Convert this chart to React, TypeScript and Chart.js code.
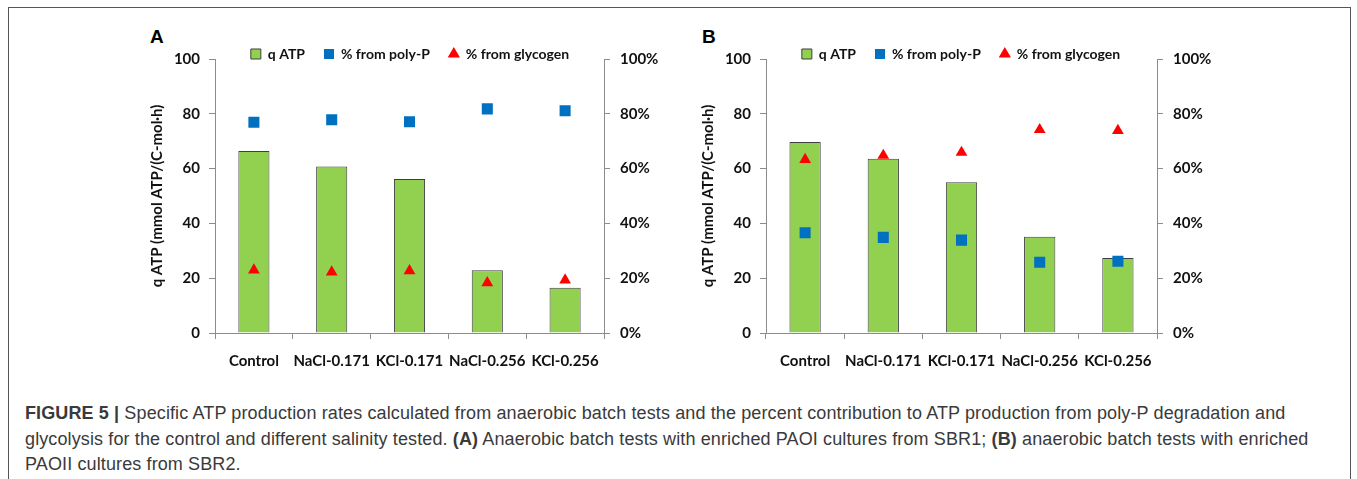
import React, { useEffect, useRef } from 'react';
import { Chart, registerables } from 'chart.js';

Chart.register(...registerables);

const categories = ['Control', 'NaCl-0.171', 'KCl-0.171', 'NaCl-0.256', 'KCl-0.256'];

const qAtpA = [66.4, 60.8, 56.2, 22.9, 16.5];
const polyPA = [76.9, 77.8, 77.1, 81.8, 81.1];
const glycogenA = [23.0, 22.2, 22.7, 18.3, 19.3];

const qAtpB = [69.7, 63.6, 55.0, 35.1, 27.4];
const polyPB = [36.6, 34.9, 33.9, 25.8, 26.2];
const glycogenB = [63.3, 64.8, 65.9, 74.2, 73.9];

const seriesLabels = ['q ATP', '% from poly-P', '% from glycogen'];
const yTitle = 'q ATP (mmol ATP/(C-mol·h)';

const FONT = 'Lato, "Open Sans", sans-serif';
const AXIS = '#8c8c8c';
const TXT = '#111111';

function legendHeight(h: number) {
  return {
    id: 'legendHeight',
    beforeLayout(chart: any) {
      const lg = chart.legend;
      if (lg && !lg._fixedH) {
        const fit = lg.fit.bind(lg);
        lg.fit = function () {
          fit();
          this.height = h;
        };
        lg.draw = function () {
          if (this.options.display) this._draw();
        };
        lg._fixedH = true;
      }
    },
  };
}

function Panel(props: {
  qAtp: number[];
  polyP: number[];
  glyc: number[];
  leftW: number;
  rightW: number;
}) {
  const ref = useRef<HTMLCanvasElement | null>(null);
  useEffect(() => {
    if (!ref.current) return;
    const tickFont = { family: FONT, size: 15, weight: 'bold' as const };
    const chart = new Chart(ref.current, {
      type: 'bar',
      data: {
        labels: categories,
        datasets: [
          {
            type: 'bar',
            label: seriesLabels[0],
            data: props.qAtp,
            backgroundColor: '#92D050',
            borderColor: '#3f3f3f',
            borderWidth: 1,
            borderSkipped: 'bottom',
            barPercentage: 0.4,
            categoryPercentage: 1,
            yAxisID: 'y',
            pointStyle: 'rect',
            order: 3,
          } as any,
          {
            type: 'line',
            label: seriesLabels[1],
            data: props.polyP,
            yAxisID: 'y1',
            showLine: false,
            pointStyle: 'rect',
            pointRadius: 7.8,
            backgroundColor: '#0070C0',
            borderColor: '#0070C0',
            borderWidth: 0,
            pointBorderWidth: 0,
            order: 2,
          } as any,
          {
            type: 'line',
            label: seriesLabels[2],
            data: props.glyc,
            yAxisID: 'y1',
            showLine: false,
            pointStyle: 'triangle',
            pointRadius: 6.8,
            backgroundColor: '#FF0000',
            borderColor: '#FF0000',
            borderWidth: 0,
            pointBorderWidth: 0,
            order: 1,
          } as any,
        ],
      },
      options: {
        animation: false,
        responsive: false,
        events: [],
        layout: { padding: { top: 8, left: 0, right: 0, bottom: 0 } },
        plugins: {
          legend: {
            position: 'top',
            labels: {
              usePointStyle: true,
              boxWidth: 10,
              boxHeight: 10,
              padding: 19,
              color: TXT,
              font: { family: FONT, size: 14, weight: 'bold' },
              sort: (a: any, b: any) => a.datasetIndex - b.datasetIndex,
            },
          },
          tooltip: { enabled: false },
        },
        scales: {
          x: {
            grid: {
              display: true,
              drawOnChartArea: false,
              drawTicks: true,
              tickLength: 6,
              color: AXIS,
              offset: true,
            },
            border: { color: AXIS },
            ticks: { font: tickFont, color: TXT, padding: 13, maxRotation: 0, autoSkip: false },
            afterFit(s: any) {
              s.height = 47;
            },
          },
          y: {
            position: 'left',
            min: 0,
            max: 100,
            grid: { drawOnChartArea: false, tickLength: 6, color: AXIS },
            border: { color: AXIS },
            ticks: { stepSize: 20, font: tickFont, color: TXT, padding: 9 },
            title: {
              display: true,
              text: yTitle,
              color: TXT,
              font: { family: FONT, size: 15, weight: 'bold', lineHeight: 2.27 },
              padding: 0,
            },
            afterFit(s: any) {
              s.width = props.leftW;
            },
          },
          y1: {
            position: 'right',
            min: 0,
            max: 100,
            grid: { drawOnChartArea: false, tickLength: 6, color: AXIS },
            border: { color: AXIS },
            ticks: {
              stepSize: 20,
              font: tickFont,
              color: TXT,
              padding: 10,
              callback: (v: any) => v + '%',
            },
            afterFit(s: any) {
              s.width = props.rightW;
            },
          },
        },
      } as any,
      plugins: [legendHeight(31)],
    });
    return () => chart.destroy();
  }, []);
  return <canvas ref={ref} width={540} height={360} style={{ width: 540, height: 360, display: 'block' }} />;
}

export default function App() {
  useEffect(() => {
    document.documentElement.style.overflow = 'hidden';
    document.body.style.overflow = 'hidden';
  }, []);
  return (
    <div
      style={{
        position: 'fixed',
        left: 8,
        top: 7,
        width: 1343,
        height: 490,
        border: '1px solid #555',
        background: '#fff',
        boxSizing: 'border-box',
      }}
    >
      <div style={{ position: 'absolute', left: 141, top: 18, font: 'bold 19px "Liberation Sans", Arial, sans-serif', color: '#000' }}>A</div>
      <div style={{ position: 'absolute', left: 693, top: 18, font: 'bold 19px "Liberation Sans", Arial, sans-serif', color: '#000' }}>B</div>
      <div style={{ position: 'absolute', left: 131, top: 12 }}>
        <Panel qAtp={qAtpA} polyP={polyPA} glyc={glycogenA} leftW={75} rightW={76} />
      </div>
      <div style={{ position: 'absolute', left: 682, top: 12 }}>
        <Panel qAtp={qAtpB} polyP={polyPB} glyc={glycogenB} leftW={75} rightW={74} />
      </div>
      <div
        style={{
          position: 'absolute',
          left: 16,
          top: 393,
          font: '18px "Liberation Sans", Arial, sans-serif',
          letterSpacing: '0.12px',
          lineHeight: '25.5px',
          color: '#3a3a3a',
          whiteSpace: 'nowrap',
        }}
      >
        <b>FIGURE 5 |</b> Specific ATP production rates calculated from anaerobic batch tests and the percent contribution to ATP production from poly-P degradation and
        <br />
        glycolysis for the control and different salinity tested. <b>(A)</b> Anaerobic batch tests with enriched PAOI cultures from SBR1; <b>(B)</b> anaerobic batch tests with enriched
        <br />
        PAOII cultures from SBR2.
      </div>
    </div>
  );
}
